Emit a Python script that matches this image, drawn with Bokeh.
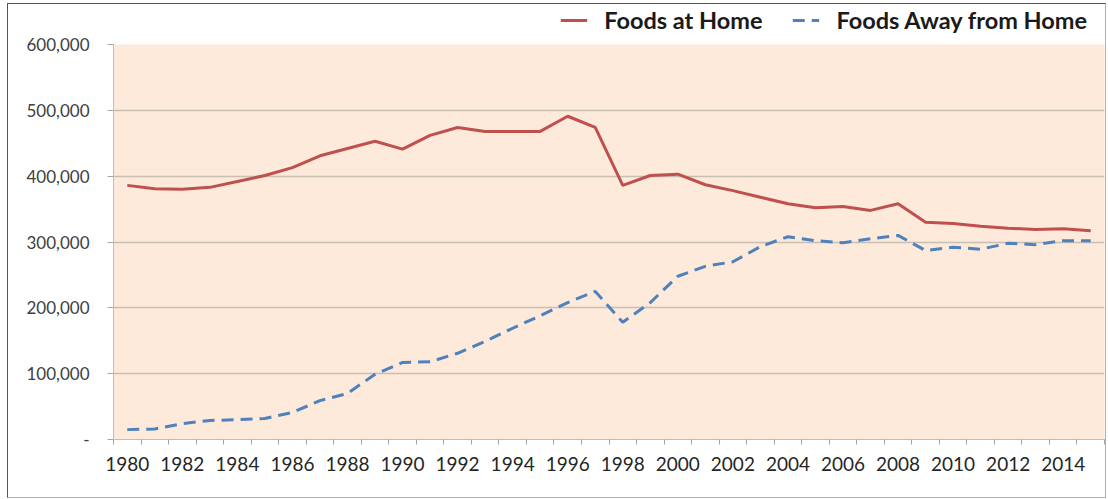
from bokeh.plotting import figure
from bokeh.layouts import column
from bokeh.models import FixedTicker, NumeralTickFormatter, Legend, LegendItem, Range1d
from bokeh.embed import file_html
from bokeh.resources import INLINE

years = list(range(1980, 2016))
foods_at_home = [386000, 381000, 380000, 383000, 392000, 401000, 413000, 431000, 442000, 453000,
                 441000, 462000, 474000, 468000, 468000, 468000, 491000, 474000, 386000, 401000,
                 403000, 387000, 378000, 368000, 358000, 352000, 354000, 348000, 358000, 330000,
                 328000, 324000, 321000, 319000, 320000, 317000]
foods_away = [15000, 16000, 24000, 29000, 30000, 32000, 41000, 59000, 70000, 99000,
              117000, 118000, 131000, 149000, 169000, 188000, 208000, 225000, 178000, 208000,
              248000, 263000, 270000, 293000, 308000, 302000, 299000, 305000, 310000, 287000,
              292000, 289000, 298000, 296000, 302000, 302000]
series_names = ["Foods at Home", "Foods Away from Home"]
y_ticks = [0, 100000, 200000, 300000, 400000, 500000, 600000]
x_label_years = [y for y in years if y % 2 == 0]

RED = "#C0504D"
BLUE = "#4F81BD"
DASH = "12 7"

p = figure(width=1097, height=462, output_backend="svg", toolbar_location=None,
           x_range=Range1d(1979.5, 2015.5), y_range=Range1d(0, 600000),
           min_border_left=105, min_border_right=1, min_border_top=9, min_border_bottom=58)
p.background_fill_color = "#FDEADA"
p.border_fill_color = "white"
p.outline_line_color = None

p.line(years, foods_at_home, line_color=RED, line_width=3)
p.line(years, foods_away, line_color=BLUE, line_width=3, line_dash=DASH)

# axes
p.xaxis.ticker = FixedTicker(ticks=x_label_years, minor_ticks=[y - 0.5 for y in years] + [2015.5])
p.xaxis.major_tick_line_color = None
p.xaxis.minor_tick_line_color = "#A6A6A6"
p.xaxis.minor_tick_out = 5
p.xaxis.minor_tick_in = 0
p.xaxis.axis_line_color = "#BFBFBF"
p.xaxis.major_label_text_font = "Lato"
p.xaxis.major_label_text_font_size = "19px"
p.xaxis.major_label_text_color = "#262626"
p.xaxis.major_label_standoff = 11

p.yaxis.ticker = FixedTicker(ticks=y_ticks, minor_ticks=[])
p.yaxis.formatter = NumeralTickFormatter(format="0,0")
p.yaxis.major_label_overrides = {0: "-"}
p.yaxis.axis_line_color = "#BFBFBF"
p.yaxis.major_tick_line_color = "#A6A6A6"
p.yaxis.major_tick_out = 6
p.yaxis.major_tick_in = 0
p.yaxis.major_label_text_font = "Lato"
p.yaxis.major_label_text_font_size = "17px"
p.yaxis.major_label_text_color = "#404040"
p.yaxis.major_label_standoff = 18

p.xgrid.grid_line_color = None
p.ygrid.grid_line_color = "#C9BFB3"
p.ygrid.grid_line_width = 1.5

# legend strip above the plot
lf = figure(width=1097, height=31, output_backend="svg", toolbar_location=None,
            x_range=Range1d(0, 1), y_range=Range1d(0, 1),
            min_border_left=0, min_border_right=0, min_border_top=0, min_border_bottom=0)
lf.axis.visible = False
lf.grid.visible = False
lf.outline_line_color = None
lf.background_fill_color = "white"
lr1 = lf.line([-10, -9], [-10, -9], line_color=RED, line_width=3)
lr2 = lf.line([-10, -9], [-10, -9], line_color=BLUE, line_width=3, line_dash=DASH)
legend = Legend(items=[LegendItem(label=series_names[0], renderers=[lr1]),
                       LegendItem(label=series_names[1], renderers=[lr2])],
                orientation="horizontal", location="right",
                label_text_font="Lato", label_text_font_size="23.5px", label_text_font_style="bold",
                label_text_color="#1a1a1a", glyph_width=27, label_standoff=17, spacing=30,
                padding=0, margin=17,
                border_line_color=None, background_fill_alpha=0)
lf.add_layout(legend, "center")

layout = column(lf, p, spacing=0, margin=(3, 0, 0, 7),
                styles={"border": "1px solid #555555", "border-right-color": "#b0b0b0",
                        "border-bottom-color": "#b0b0b0"})

open("out.html", "w").write(file_html(layout, INLINE))
